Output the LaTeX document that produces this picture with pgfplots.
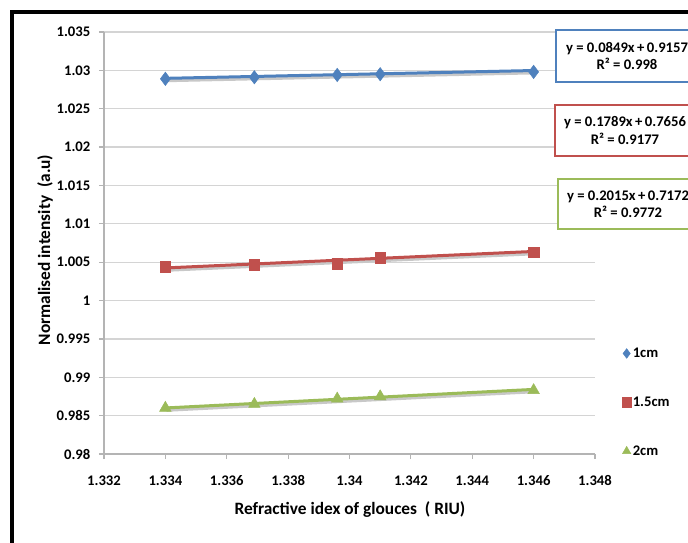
\documentclass[border=0pt]{standalone}
\usepackage{pgfplots}
\pgfplotsset{compat=1.18}
\usepackage{fontspec}
\setmainfont{Carlito}
\definecolor{xblue}{RGB}{79,129,189}
\definecolor{xred}{RGB}{192,80,77}
\definecolor{xgreen}{RGB}{155,187,89}
\definecolor{gridc}{RGB}{212,212,212}
\definecolor{axc}{RGB}{180,180,180}
\definecolor{shad}{RGB}{200,200,200}
\begin{document}
\begin{tikzpicture}
\begin{axis}[
  at={(0,0)}, anchor=south west,
  scale only axis, width=368.25pt, height=316.5pt,
  xmin=1.332, xmax=1.348, ymin=0.98, ymax=1.035,
  xtick={1.332,1.334,1.336,1.338,1.34,1.342,1.344,1.346,1.348},
  ytick={0.98,0.985,0.99,0.995,1,1.005,1.01,1.015,1.02,1.025,1.03,1.035},
  scaled x ticks=false, scaled y ticks=false,
  /pgf/number format/.cd, fixed, precision=3, assume math mode=true, /pgfplots/.cd,
  axis lines*=left,
  axis line style={-, axc, line width=0.9pt},
  tick align=outside, major tick length=3.75pt,
  tick style={axc, line width=0.9pt},
  ymajorgrids, major grid style={gridc, line width=0.9pt},
  ticklabel style={font=\fontsize{11}{13}\selectfont\bfseries},
  xticklabel style={yshift=-9pt},
  yticklabel style={xshift=-3pt},
  xlabel={Refractive idex of glouces\ \ ( RIU)},
  ylabel={Normalised intensity\ \ (a.u)},
  label style={font=\fontsize{13}{15}\selectfont\bfseries},
  xlabel style={at={(axis description cs:0.501,-0.1327)}, anchor=center},
  ylabel style={at={(axis description cs:-0.1202,0.4834)}, anchor=center, rotate=0},
  clip=false,
  legend style={at={(axis description cs:1.046,0.262)}, anchor=north west, draw=none, fill=none,
    row sep=26pt, font=\fontsize{11}{13}\selectfont\bfseries,
    nodes={inner sep=1pt}},
  legend cell align=left,
  legend image code/.code={\draw[#1] plot coordinates {(0pt,0pt)};},
  legend image post style={mark size=3.6pt},
]
% linear trend lines with shadows
\addplot[forget plot, xblue, line width=2.25pt,
  preaction={draw=shad, line width=2.6pt, transform canvas={xshift=0.8pt,yshift=-1.6pt}}]
  coordinates {(1.334,1.02896) (1.346,1.02998)};
\addplot[forget plot, xred, line width=2.25pt,
  preaction={draw=shad, line width=2.6pt, transform canvas={xshift=0.8pt,yshift=-1.6pt}}]
  coordinates {(1.334,1.00425) (1.346,1.00640)};
\addplot[forget plot, xgreen, line width=2.25pt,
  preaction={draw=shad, line width=2.6pt, transform canvas={xshift=0.8pt,yshift=-1.6pt}}]
  coordinates {(1.334,0.98600) (1.346,0.98842)};
% markers
\addplot[only marks, mark=diamond*, mark size=5pt, color=xblue, mark options={fill=xblue, draw=xblue}]
  coordinates {(1.334,1.0289) (1.3369,1.0291) (1.3396,1.0294) (1.341,1.0295) (1.346,1.0298)};
\addlegendentry{1cm}
\addplot[only marks, mark=square*, mark size=4pt, color=xred, mark options={fill=xred, draw=xred}]
  coordinates {(1.334,1.0044) (1.3369,1.0047) (1.3396,1.0048) (1.341,1.0056) (1.346,1.0063)};
\addlegendentry{1.5cm}
\addplot[only marks, mark=triangle*, mark size=5pt, color=xgreen, mark options={fill=xgreen, draw=xgreen}]
  coordinates {(1.334,0.9860) (1.3369,0.9865) (1.3396,0.9872) (1.341,0.9875) (1.346,0.9883)};
\addlegendentry{2cm}
\end{axis}
\begin{scope}[shift={(-78pt,340.5pt)}, x=0.75pt, y=-0.75pt]
  % outer frame
  \draw[line width=3pt] (12,700) -- (12,12) -- (800,12);
  % equation boxes
  \draw[xblue, line width=1.6pt, fill=white] (760,30) -- (556,30) -- (556,82) -- (760,82);
  \node[align=center, font=\fontsize{11}{12.8}\selectfont\bfseries, inner sep=0pt] at (627,56)
    {y = 0.0849x\,+\,0.9157\\R² = 0.998};
  \draw[xred, line width=1.6pt, fill=white] (760,105) -- (555,105) -- (555,156) -- (760,156);
  \node[align=center, font=\fontsize{11}{12.8}\selectfont\bfseries, inner sep=0pt] at (625,130.5)
    {y = 0.1789x\,+\,0.7656\\R² = 0.9177};
  \draw[xgreen, line width=1.6pt, fill=white] (760,179) -- (558,179) -- (558,229) -- (760,229);
  \node[align=center, font=\fontsize{11}{12.8}\selectfont\bfseries, inner sep=0pt] at (628,204)
    {y = 0.2015x\,+\,0.7172\\R² = 0.9772};
  \pgfresetboundingbox
  \path[use as bounding box] (0,0) rectangle (688,542);
\end{scope}
\end{tikzpicture}
\end{document}
